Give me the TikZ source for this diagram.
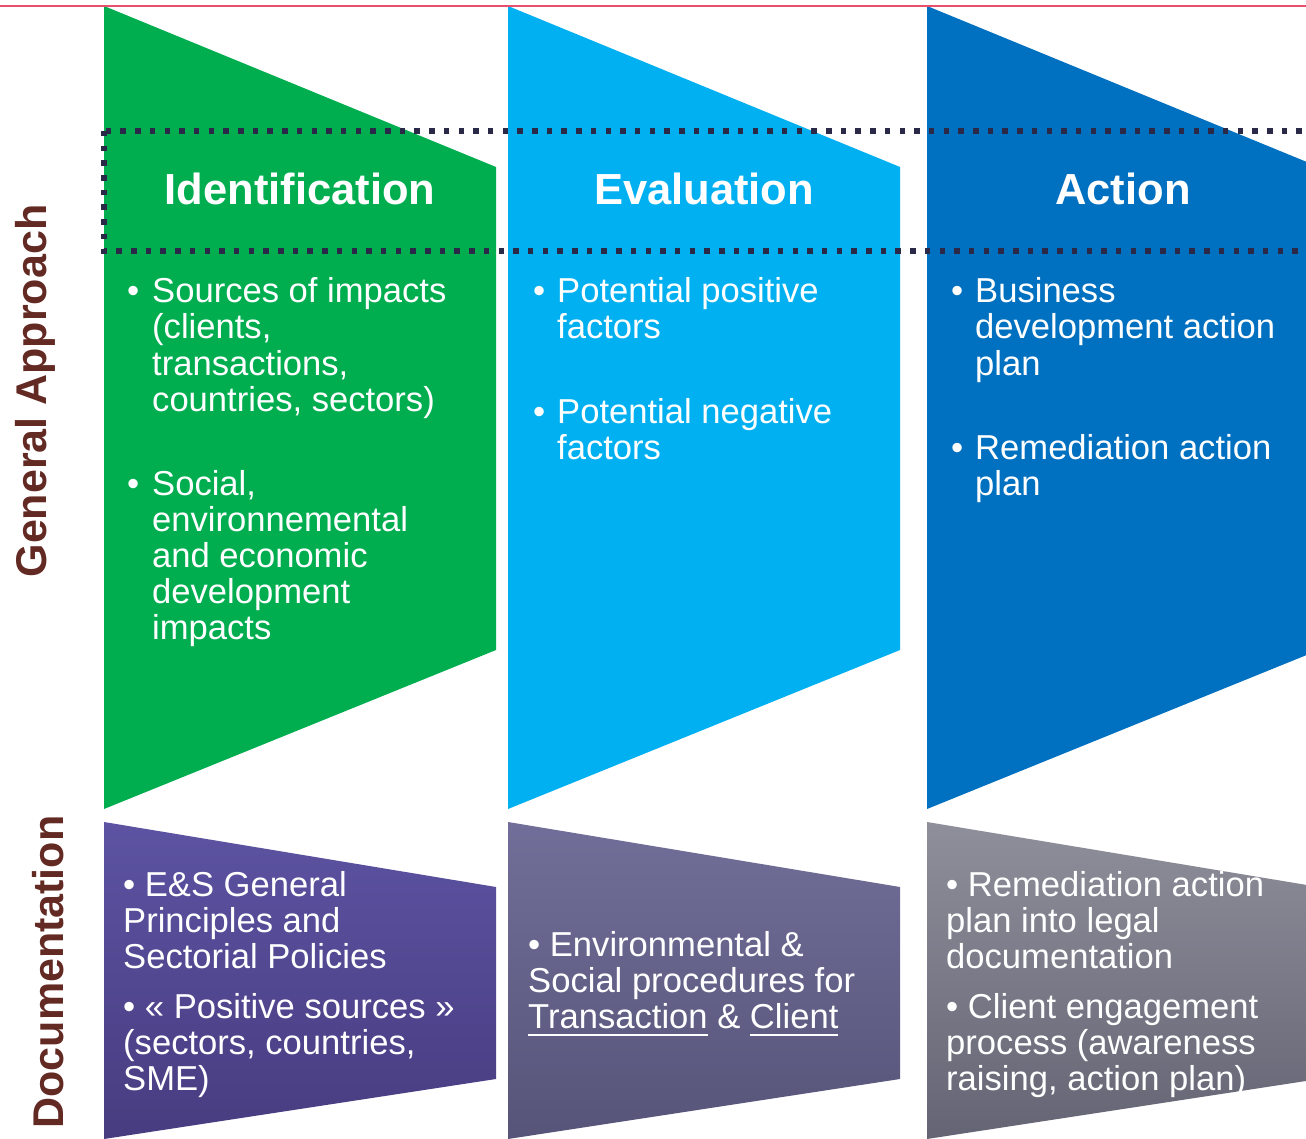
\documentclass[tikz,border=0pt]{standalone}
\usepackage{fontspec}
\setmainfont{Liberation Sans}
\definecolor{cgreen}{RGB}{0,174,80}
\definecolor{clblue}{RGB}{0,176,240}
\definecolor{cdblue}{RGB}{0,112,192}
\definecolor{cpink}{RGB}{232,80,110}
\definecolor{cbrown}{RGB}{99,42,36}
\definecolor{cdot}{RGB}{42,42,72}
\definecolor{purA}{RGB}{92,83,162}
\definecolor{purB}{RGB}{72,60,128}
\definecolor{midA}{RGB}{113,111,153}
\definecolor{midB}{RGB}{86,84,120}
\definecolor{gryA}{RGB}{143,143,155}
\definecolor{gryB}{RGB}{100,100,116}
\newcommand\myBody{\fontsize{34.6}{36}\selectfont}
\newcommand\myHead{\fontsize{43.5}{48}\selectfont\bfseries}
\newcommand\mySide{\fontsize{43}{48}\selectfont\bfseries}
\newsavebox\myULbox
\newcommand\myUL[1]{\leavevmode\sbox\myULbox{#1}\rlap{\rule[-8pt]{\wd\myULbox}{2pt}}\usebox\myULbox}
\begin{document}
\begin{tikzpicture}[x=1pt,y=-1pt,
  body/.style={font=\myBody,text=white,inner sep=0pt,anchor=base west},
  head/.style={font=\myHead,text=white,inner sep=0pt,anchor=base},
  side/.style={font=\mySide,text=cbrown,inner sep=0pt,anchor=base,rotate=90},
  dotbox/.style={draw=cdot,line width=6pt,dash pattern=on 5.5pt off 9.2pt}]
\useasboundingbox (0,0) rectangle (1306,1139);
\clip (0,0) rectangle (1306,1139);
\fill[white] (0,0) rectangle (1306,1139);
% top trapezoids
\fill[cgreen] (104,6) -- (496,167) -- (496,650) -- (104,809) -- cycle;
\fill[clblue] (508,6) -- (900,167) -- (900,650) -- (508,809) -- cycle;
\fill[cdblue] (927,6) -- (1319,167) -- (1319,650) -- (927,809) -- cycle;
% bottom trapezoids
\shade[top color=purA,bottom color=purB] (104,822) -- (496,887) -- (496,1079) -- (104,1139) -- cycle;
\shade[top color=midA,bottom color=midB] (508,822) -- (900,887) -- (900,1079) -- (508,1139) -- cycle;
\shade[top color=gryA,bottom color=gryB] (927,822) -- (1319,887) -- (1319,1079) -- (927,1139) -- cycle;
% top line
\draw[cpink,line width=2.5pt] (0,6) -- (1306,6);
% dotted frame
\draw[dotbox] (104,131) rectangle (1340,251);
% headings
\node[head] (h1) at (300,205) {Identification};
\node[head] (h2) at (704,205) {Evaluation};
\node[head] (h3) at (1123,205) {Action};
% side labels
\node[side] (s1) at (46.5,391) {General Approach};
\node[side] (s2) at (63,972) {Documentation};
% Identification
\node[body] (i1b) at (127,303) {•};
\node[body] (i1a) at (152,303) {Sources of impacts};
\node[body] (i1c) at (152,339) {(clients,};
\node[body] (i1d) at (152,375) {transactions,};
\node[body] (i1e) at (152,411) {countries, sectors)};
\node[body] (i2b) at (127,495) {•};
\node[body] (i2a) at (152,495) {Social,};
\node[body] (i2c) at (152,531) {environnemental};
\node[body] (i2d) at (152,567) {and economic};
\node[body] (i2e) at (152,603) {development};
\node[body] (i2f) at (152,639) {impacts};
% Evaluation
\node[body] (e1b) at (533,303) {•};
\node[body] (e1a) at (557,303) {Potential positive};
\node[body] (e1c) at (557,339) {factors};
\node[body] (e2b) at (533,423) {•};
\node[body] (e2a) at (557,423) {Potential negative};
\node[body] (e2c) at (557,459) {factors};
% Action
\node[body] (a1b) at (951,303) {•};
\node[body] (a1a) at (975,303) {Business};
\node[body] (a1c) at (975,339) {development action};
\node[body] (a1d) at (975,375) {plan};
\node[body] (a2b) at (951,459) {•};
\node[body] (a2a) at (975,459) {Remediation action};
\node[body] (a2c) at (975,495) {plan};
% Documentation col 1
\node[body] (d1a) at (123,896) {• E\&S General};
\node[body] (d1b) at (123,932) {Principles and};
\node[body] (d1c) at (123,968) {Sectorial Policies};
\node[body] (d1d) at (123,1018) {• « Positive sources »};
\node[body] (d1e) at (123,1054) {(sectors, countries,};
\node[body] (d1f) at (123,1090) {SME)};
% Documentation col 2
\node[body] (d2a) at (528,956) {• Environmental \&};
\node[body] (d2b) at (528,992) {Social procedures for};
\node[body] (d2c) at (528,1028) {\myUL{Transaction} \& \myUL{Client}};
% Documentation col 3
\node[body] (d3a) at (946,896) {• Remediation action};
\node[body] (d3b) at (946,932) {plan into legal};
\node[body] (d3c) at (946,968) {documentation};
\node[body] (d3d) at (946,1018) {• Client engagement};
\node[body] (d3e) at (946,1054) {process (awareness};
\node[body] (d3f) at (946,1090) {raising, action plan)};
\end{tikzpicture}
\end{document}
